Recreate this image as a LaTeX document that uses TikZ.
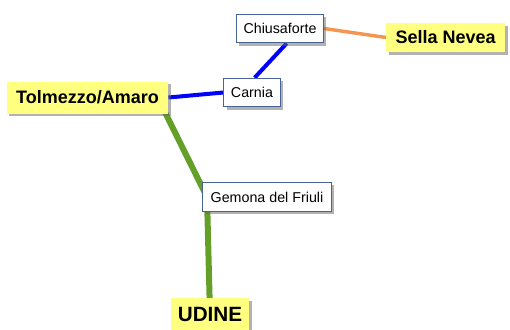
\documentclass[tikz,border=0pt]{standalone}
\usepackage{fontspec}
\setmainfont{Liberation Sans}
\usetikzlibrary{shadows,backgrounds}

\definecolor{townyellow}{RGB}{255,255,128}
\definecolor{boxblue}{RGB}{70,100,150}
\definecolor{linegreen}{RGB}{100,160,40}
\definecolor{lineorange}{RGB}{245,150,80}

\begin{document}
\begin{tikzpicture}[x=0.75pt, y=-0.75pt,
  stop/.style={rectangle, draw=boxblue, line width=0.75pt, fill=white, font=\fontsize{10.7}{12}\selectfont, minimum height=21.5pt, inner xsep=5.3pt, drop shadow={shadow xshift=2pt, shadow yshift=-2pt, fill=black!60, opacity=0.5}},
  town/.style={rectangle, draw=none, fill=townyellow, font=\fontsize{13.5}{15}\selectfont\bfseries, minimum height=24pt, inner xsep=7pt, drop shadow={shadow xshift=2pt, shadow yshift=-2pt, fill=black!60, opacity=0.5}}]
  \useasboundingbox (0,0) rectangle (510,329);
  \clip (0,0) rectangle (510,329);
  \node[stop] (Chiusaforte) at (280,28.5) {Chiusaforte};
  \node[stop] (Carnia) at (252,92.5) {Carnia};
  \node[stop, inner xsep=6pt] (Gemona) at (267,197) {Gemona del Friuli};
  \node[town] (Tolmezzo) at (87.5,97.5) {Tolmezzo/Amaro};
  \node[town, minimum height=22pt, anchor=west] (Sella) at (386,37.5) {Sella Nevea\hspace{14pt}};
  \node[town, font=\fontsize{15.5}{17}\selectfont\bfseries, minimum height=25pt, inner xsep=5.5pt] (Udine) at (210,314.5) {UDINE};
  \begin{scope}[on background layer]
    \draw[lineorange, line width=2.6pt] (Chiusaforte.east) -- (Sella.west);
    \draw[blue, line width=3pt] (Tolmezzo.east) -- (Carnia.west);
    \draw[blue, line width=3pt] ([xshift=2pt]Carnia.north) -- ([xshift=5pt]Chiusaforte.south);
    \draw[linegreen, line width=4.5pt, line join=round] ([xshift=-3pt,yshift=2pt]Tolmezzo.south east) -- ([xshift=-45pt]Gemona.center) -- (Udine.center);
  \end{scope}
\end{tikzpicture}
\end{document}
